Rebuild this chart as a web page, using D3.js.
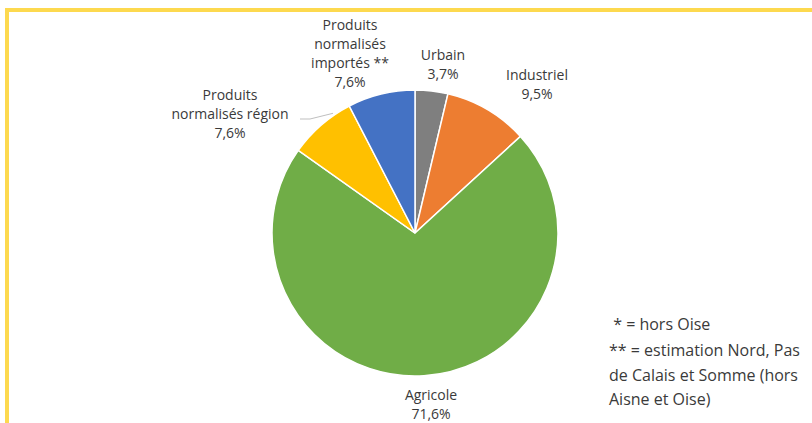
<!DOCTYPE html>
<html>
<head>
<meta charset="utf-8">
<script src="https://cdn.jsdelivr.net/npm/d3@7"></script>
<style>
  body { margin: 0; background: #fff; }
  text { font-family: "Open Sans", sans-serif; fill: #3a3a3a; }
</style>
</head>
<body>
<div id="chart"></div>
<script>
// slices, clockwise from 12 o'clock
var categories = ["Urbain", "Industriel", "Agricole", "Produits normalisés région", "Produits normalisés importés **"]
var labelLines = [["Urbain"], ["Industriel"], ["Agricole"], ["Produits", "normalisés région"], ["Produits", "normalisés", "importés **"]]
var values = [3.7, 9.5, 71.6, 7.6, 7.6]
var valueLabels = ["3,7%", "9,5%", "71,6%", "7,6%", "7,6%"]
var colors = ["#7f7f7f", "#ed7d31", "#70ad47", "#ffc000", "#4472c4"]
var notes = [" * = hors Oise", "** = estimation Nord, Pas", "de Calais et Somme (hors", "Aisne et Oise)"]

var width = 812, height = 423
var cx = 415, cy = 233, radius = 143

// label block centres relative to pie centre (layout only)
var labelOffset = {
  "Urbain": [28, -169],
  "Industriel": [122, -149],
  "Agricole": [16, 171],
  "Produits normalisés région": [-185, -120],
  "Produits normalisés importés **": [-65, -180]
}
var lineH = 19

let svg = d3.select("#chart")
  .append("svg")
  .attr("width", width)
  .attr("height", height)

// yellow frame (top + left only)
svg.append("rect").attr("x", 5).attr("y", 8).attr("width", width - 5).attr("height", 4).attr("fill", "#fdd94f")
svg.append("rect").attr("x", 5).attr("y", 8).attr("width", 4).attr("height", height - 8).attr("fill", "#fdd94f")

var g = svg.append("g").attr("transform", `translate(${cx}, ${cy})`)

var pie = d3.pie().sort(null).value(d => d.value)
var arc = d3.arc().innerRadius(0).outerRadius(radius)

var data = categories.map((c, i) => ({name: c, value: values[i], lines: labelLines[i], pct: valueLabels[i], color: colors[i]}))
var arcs = pie(data)

g.selectAll(".slice")
  .data(arcs)
  .enter()
  .append("path")
  .attr("class", "slice")
  .attr("d", arc)
  .attr("fill", d => d.data.color)
  .attr("stroke", "#fff")
  .attr("stroke-width", 1.5)

// leader line for the region label
var reg = arcs[3]
var regEdge = d3.arc().innerRadius(radius * 0.98).outerRadius(radius * 0.98).centroid(reg)
var regOff = labelOffset[reg.data.name]
g.append("polyline")
  .attr("points", [[regOff[0] + 70, regOff[1] + 6], [regOff[0] + 80, regOff[1] + 6], [regEdge[0] + 10, regEdge[1] - 14]].join(" "))
  .attr("fill", "none")
  .attr("stroke", "#bfbfbf")
  .attr("stroke-width", 1)

var labels = g.selectAll(".lbl")
  .data(arcs)
  .enter()
  .append("text")
  .attr("class", "lbl")
  .attr("text-anchor", "middle")
  .attr("font-size", 14)
  .each(function(d) {
    var lines = d.data.lines.concat([d.data.pct])
    var off = labelOffset[d.data.name]
    var y0 = off[1] - (lines.length - 1) * lineH / 2
    var t = d3.select(this)
    lines.forEach(function(l, i) {
      t.append("tspan")
        .attr("x", off[0])
        .attr("y", y0 + i * lineH)
        .attr("dominant-baseline", "central")
        .text(l)
    })
  })

// footnotes
svg.selectAll(".note")
  .data(notes)
  .enter()
  .append("text")
  .attr("class", "note")
  .attr("x", 609)
  .attr("y", (d, i) => [324, 350, 375, 399][i])
  .attr("dominant-baseline", "central")
  .attr("font-size", 16)
  .attr("xml:space", "preserve")
  .style("white-space", "pre")
  .text(d => d)
</script>
</body>
</html>
